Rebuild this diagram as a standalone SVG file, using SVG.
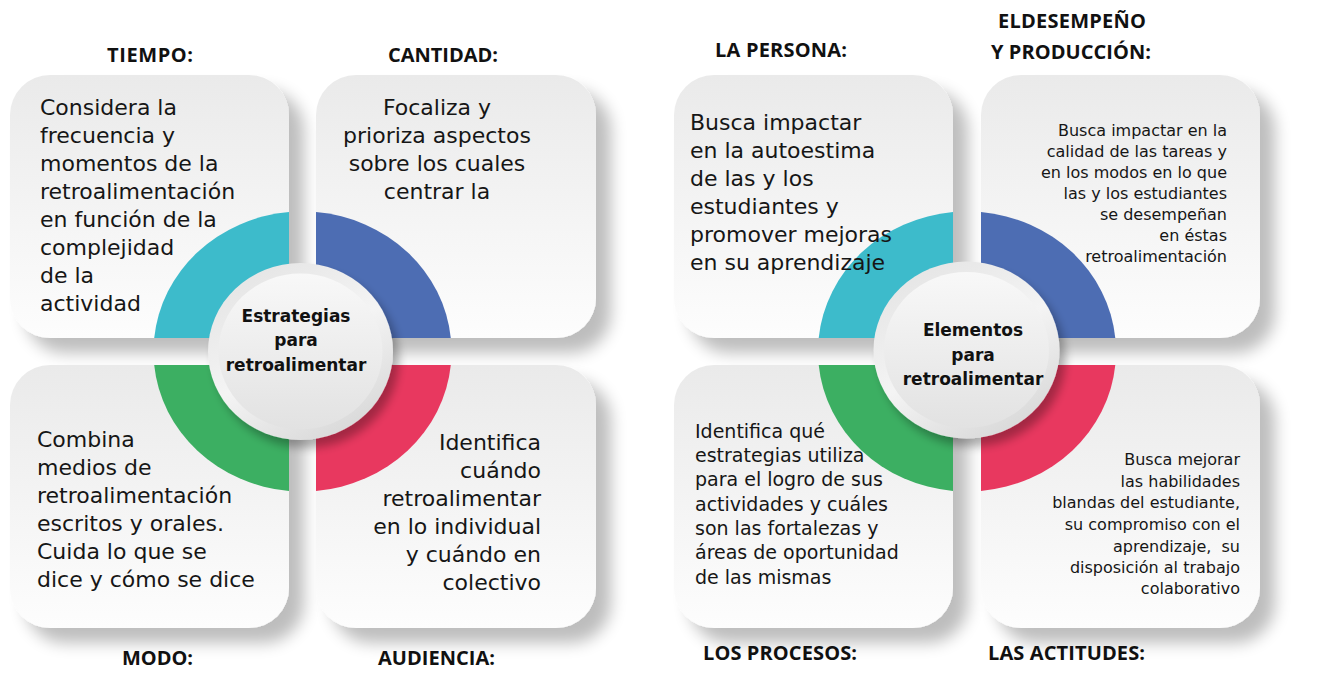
<svg xmlns="http://www.w3.org/2000/svg" width="1327" height="696" viewBox="0 0 1327 696">
<defs>
<linearGradient id="cardg" x1="0" y1="0" x2="0" y2="1">
<stop offset="0" stop-color="#eaeaea"/>
<stop offset="1" stop-color="#fdfdfd"/>
</linearGradient>
<linearGradient id="ringg" x1="0.2" y1="0" x2="0.8" y2="1">
<stop offset="0" stop-color="#e4e4e4"/>
<stop offset="0.5" stop-color="#f4f4f4"/>
<stop offset="1" stop-color="#d6d6d6"/>
</linearGradient>
<linearGradient id="discg" x1="0" y1="0" x2="0" y2="1">
<stop offset="0" stop-color="#f8f8f8"/>
<stop offset="1" stop-color="#e2e2e2"/>
</linearGradient>
<filter id="sh" x="-15%" y="-15%" width="140%" height="140%">
<feGaussianBlur in="SourceAlpha" stdDeviation="8"/>
<feOffset dx="15" dy="15"/>
<feComponentTransfer><feFuncA type="linear" slope="0.26"/></feComponentTransfer>
<feMerge><feMergeNode/><feMergeNode in="SourceGraphic"/></feMerge>
</filter>
<filter id="csh" x="-20%" y="-20%" width="150%" height="150%">
<feGaussianBlur in="SourceAlpha" stdDeviation="5"/>
<feOffset dx="6" dy="8"/>
<feComponentTransfer><feFuncA type="linear" slope="0.3"/></feComponentTransfer>
<feMerge><feMergeNode/><feMergeNode in="SourceGraphic"/></feMerge>
</filter>
</defs>
<style>
.card{fill:url(#cardg);filter:url(#sh)}
.body{font-family:"DejaVu Sans","Liberation Sans",sans-serif;font-size:22px;fill:#161616}
.sm{font-family:"DejaVu Sans","Liberation Sans",sans-serif;font-size:16px;fill:#161616}
.md{font-family:"DejaVu Sans","Liberation Sans",sans-serif;font-size:19px;fill:#161616}
.ctr{font-family:"DejaVu Sans","Liberation Sans",sans-serif;font-size:17px;font-weight:bold;fill:#111;text-anchor:middle}
.ttl{font-family:"Open Sans","Liberation Sans",sans-serif;font-size:20px;font-weight:bold;fill:#111}
.cy{fill:#3dbbcb}.bl{fill:#4d6db3}.gr{fill:#3caf62}.rd{fill:#e8385f}
.ring{fill:url(#ringg);filter:url(#csh)}
.disc{fill:url(#discg)}
</style>

<!-- titles -->
<g id="titles">
<text class="ttl" x="107" y="62" textLength="86">TIEMPO:</text>
<text class="ttl" x="388" y="62" textLength="110">CANTIDAD:</text>
<text class="ttl" x="122" y="665" textLength="71">MODO:</text>
<text class="ttl" x="378" y="665" textLength="117">AUDIENCIA:</text>
<text class="ttl" x="715" y="57" textLength="132">LA PERSONA:</text>
<text class="ttl" x="998" y="28" textLength="148">ELDESEMPEÑO</text>
<text class="ttl" x="991" y="59" textLength="160">Y PRODUCCIÓN:</text>
<text class="ttl" x="703" y="660" textLength="154">LOS PROCESOS:</text>
<text class="ttl" x="988" y="660" textLength="157">LAS ACTITUDES:</text>
</g>

<!-- cards -->
<g id="card-tiempo"><rect class="card" x="10" y="75" width="279" height="263" rx="40"/></g>
<g id="card-cantidad"><rect class="card" x="316" y="75" width="280" height="263" rx="40"/></g>
<g id="card-modo"><rect class="card" x="10" y="365" width="279" height="263" rx="40"/></g>
<g id="card-audiencia"><rect class="card" x="316" y="365" width="280" height="263" rx="40"/></g>
<g id="card-persona"><rect class="card" x="674" y="75" width="279" height="263" rx="40"/></g>
<g id="card-desempeno"><rect class="card" x="981" y="75" width="279" height="263" rx="40"/></g>
<g id="card-procesos"><rect class="card" x="674" y="365" width="279" height="263" rx="40"/></g>
<g id="card-actitudes"><rect class="card" x="981" y="365" width="279" height="263" rx="40"/></g>

<!-- ring segments -->
<g id="connectors">
<path class="cy" d="M289,338 L154.2,338 A149,140 0 0 1 289,212.1 Z"/>
<path class="bl" d="M316,338 L316,212.1 A149,140 0 0 1 450.8,338 Z"/>
<path class="rd" d="M316,365 L450.8,365 A149,140 0 0 1 316,490.9 Z"/>
<path class="gr" d="M289,365 L289,490.9 A149,140 0 0 1 154.2,365 Z"/>
<path class="cy" d="M953,338 L818.7,338 A149,140 0 0 1 953,212.1 Z"/>
<path class="bl" d="M981,338 L981,212.1 A149,140 0 0 1 1115.3,338 Z"/>
<path class="rd" d="M981,365 L1115.3,365 A149,140 0 0 1 981,490.9 Z"/>
<path class="gr" d="M953,365 L953,490.9 A149,140 0 0 1 818.7,365 Z"/>
</g>

<!-- centers -->
<g id="center-estrategias">
<ellipse class="ring" cx="300.5" cy="351.5" rx="92.5" ry="88.5"/>
<ellipse class="disc" cx="300.5" cy="351.5" rx="82" ry="78"/>
<text class="ctr" x="296" y="322">Estrategias</text>
<text class="ctr" x="296" y="346">para</text>
<text class="ctr" x="296" y="371">retroalimentar</text>
</g>
<g id="center-elementos">
<ellipse class="ring" cx="966.5" cy="350" rx="93" ry="88.5"/>
<ellipse class="disc" cx="966.5" cy="350" rx="82.5" ry="78"/>
<text class="ctr" x="973" y="336">Elementos</text>
<text class="ctr" x="973" y="361">para</text>
<text class="ctr" x="973" y="385">retroalimentar</text>
</g>

<!-- card texts -->
<g id="text-tiempo" class="body">
<text x="40" y="115">Considera la</text>
<text x="40" y="143">frecuencia y</text>
<text x="40" y="171">momentos de la</text>
<text x="40" y="199">retroalimentación</text>
<text x="40" y="227">en función de la</text>
<text x="40" y="255">complejidad</text>
<text x="40" y="283">de la</text>
<text x="40" y="311">actividad</text>
</g>
<g id="text-cantidad" class="body" text-anchor="middle">
<text x="437" y="115">Focaliza y</text>
<text x="437" y="143">prioriza aspectos</text>
<text x="437" y="171">sobre los cuales</text>
<text x="437" y="199">centrar la</text>
</g>
<g id="text-modo" class="body">
<text x="37" y="447">Combina</text>
<text x="37" y="475">medios de</text>
<text x="37" y="503">retroalimentación</text>
<text x="37" y="531">escritos y orales.</text>
<text x="37" y="559">Cuida lo que se</text>
<text x="37" y="587">dice y cómo se dice</text>
</g>
<g id="text-audiencia" class="body" text-anchor="end">
<text x="541" y="450">Identifica</text>
<text x="541" y="478">cuándo</text>
<text x="541" y="506">retroalimentar</text>
<text x="541" y="534">en lo individual</text>
<text x="541" y="562">y cuándo en</text>
<text x="541" y="590">colectivo</text>
</g>
<g id="text-persona" class="body">
<text x="690" y="130">Busca impactar</text>
<text x="690" y="158">en la autoestima</text>
<text x="690" y="186">de las y los</text>
<text x="690" y="214">estudiantes y</text>
<text x="690" y="242">promover mejoras</text>
<text x="690" y="270">en su aprendizaje</text>
</g>
<g id="text-desempeno" class="sm" text-anchor="end">
<text x="1227" y="136">Busca impactar en la</text>
<text x="1227" y="157">calidad de las tareas y</text>
<text x="1227" y="178">en los modos en lo que</text>
<text x="1227" y="199">las y los estudiantes</text>
<text x="1227" y="220">se desempeñan</text>
<text x="1227" y="241">en éstas</text>
<text x="1227" y="262">retroalimentación</text>
</g>
<g id="text-procesos" class="md">
<text x="695" y="438">Identifica qué</text>
<text x="695" y="462">estrategias utiliza</text>
<text x="695" y="486">para el logro de sus</text>
<text x="695" y="511">actividades y cuáles</text>
<text x="695" y="535">son las fortalezas y</text>
<text x="695" y="559">áreas de oportunidad</text>
<text x="695" y="584">de las mismas</text>
</g>
<g id="text-actitudes" class="sm" text-anchor="end">
<text x="1240" y="465">Busca mejorar</text>
<text x="1240" y="487">las habilidades</text>
<text x="1240" y="508">blandas del estudiante,</text>
<text x="1240" y="530">su compromiso con el</text>
<text x="1240" y="552" style="white-space:pre">aprendizaje,  su</text>
<text x="1240" y="573">disposición al trabajo</text>
<text x="1240" y="594">colaborativo</text>
</g>
</svg>
